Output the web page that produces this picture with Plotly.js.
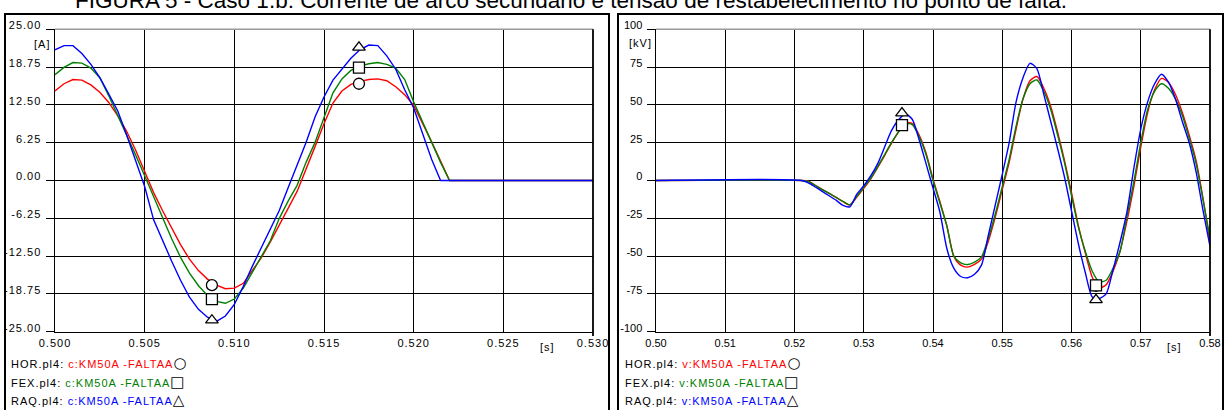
<!DOCTYPE html>
<html><head><meta charset="utf-8">
<script src="https://cdn.plot.ly/plotly-3.0.1.min.js"></script>
<style>
html,body{margin:0;padding:0;background:#fff;}
#chart{width:1226px;height:410px;}
.xtick text,.ytick text,.annotation-text{letter-spacing:1px;}
</style></head><body><div id="chart"></div>
<script>
// ---------- DATA: left chart (current, A) ----------
const tLeft = [0.5000,0.5005,0.5010,0.5015,0.5020,0.5025,0.5030,0.5035,0.5040,0.5045,
  0.5050,0.5055,0.5060,0.5065,0.5070,0.5075,0.5080,0.5085,0.5090,0.5095,
  0.5100,0.5105,0.5110,0.5115,0.5120,0.5125,0.5130,0.5135,0.5140,0.5145,
  0.5150,0.5155,0.5160,0.5165,0.5170,0.5175,0.5180,0.5185,0.5190,0.5195,
  0.5200,0.5205,0.5210,0.5215,0.5220,0.5300];
const iHOR = [14.8,16.0,16.7,16.6,15.8,14.6,12.9,10.7,8.1,5.0,
  1.5,-2.0,-5.0,-7.8,-10.6,-13.0,-14.9,-16.3,-17.3,-17.9,
  -17.8,-17.0,-14.8,-12.8,-10.2,-7.3,-4.6,-1.8,1.8,5.6,
  9.4,12.8,14.8,15.9,16.4,16.7,16.8,16.5,15.5,14.2,
  12.4,9.5,6.4,3.2,0,0];
const iFEX = [17.5,18.7,19.5,19.4,18.6,17.0,14.0,10.8,7.4,4.2,
  0.8,-2.7,-6.4,-9.6,-12.7,-15.3,-17.4,-19.0,-20.0,-20.3,
  -19.6,-17.8,-15.2,-12.6,-10.0,-6.3,-3.4,-0.8,3.0,6.3,
  10.5,14.5,16.8,18.2,18.9,19.3,19.5,19.2,18.6,16.7,
  13.0,9.6,6.3,3.0,0,0];
const iRAQ = [21.6,22.3,22.3,21.0,19.2,17.0,14.3,11.5,7.5,3.3,
  -1.0,-6.5,-10.0,-13.3,-16.5,-19.3,-21.3,-22.6,-23.3,-22.4,
  -20.5,-17.5,-14.2,-11.2,-8.0,-5.0,-1.2,2.6,6.3,10.5,
  13.8,16.6,18.4,20.2,21.6,22.4,22.3,20.6,18.4,15.0,
  12.0,7.6,3.5,0,0,0];
const mkLeftT = [0.50875,0.51695];
const mkLeftHOR = [-17.3,16.0];
const mkLeftFEX = [-19.6,18.65];
const mkLeftRAQ = [-23.1,22.0];

// ---------- DATA: right chart (voltage, kV) ----------
const tRight = [0.500,0.521,0.522,0.523,0.524,0.525,0.526,0.527,0.528,0.529,
  0.530,0.531,0.532,0.533,0.534,0.535,0.536,0.537,0.538,0.539,
  0.540,0.541,0.542,0.543,0.544,0.545,0.546,0.547,0.548,0.549,
  0.550,0.551,0.552,0.553,0.554,0.555,0.556,0.557,0.558,0.559,
  0.560,0.561,0.562,0.563,0.564,0.565,0.566,0.567,0.568,0.569,
  0.570,0.571,0.572,0.573,0.574,0.575,0.576,0.577,0.578,0.579,0.580];
const vHOR = [0,0,-0.5,-3.2,-5.9,-8.5,-11.2,-14.0,-16.3,-11.0,
  -5.2,1.0,8.5,16.5,24.5,32,37.8,37.8,30,18,
  1,-14,-30,-50,-56,-57.3,-55.5,-52,-40,-24,
  -6,12,34,54,66,68.8,61,49,32,13,
  -8,-30,-48,-64,-71,-69,-60,-47,-27,-4,
  22,45,60,67.5,65,57,45,30,13,-12,-41];
const vFEX = [0,0,-0.6,-3.3,-6.0,-8.5,-11.2,-13.8,-16.0,-10.5,
  -4.5,1.5,9,17,25,32,37.5,37,29,17,
  0,-15,-30,-50,-54.5,-55.6,-54,-50.5,-38,-22,
  -4,14,36,54,64,66.5,59,47,30,11.5,
  -10,-31,-47,-60,-67,-66,-58,-47,-24,-1,
  25,47,59,64,61,54,43,28,11,-13,-38];
const vRAQ = [0,0,-1.5,-4.3,-7.2,-10.1,-13.0,-16.5,-17.4,-9.0,
  -3.5,3.0,11.0,22.0,33.0,40.0,44.0,40.5,27.0,11.0,
  -5.0,-21.0,-45.0,-58.0,-63.5,-64.3,-62.0,-56.0,-36.0,-16.0,
  4.0,25.0,52.0,68.0,77.5,74.0,57.0,39.0,21.0,2.0,
  -20.0,-42.0,-61.0,-77.0,-78.0,-75.0,-59.0,-41.0,-21.0,8.0,
  34.0,52.0,64.0,70.3,65.0,54.0,39.0,25.0,5.5,-20.0,-43.5];
const mkRightT = [0.53552,0.56354];
const mkRightHOR = [36.8,-69.6];
const mkRightFEX = [36.6,-69.4];
const mkRightRAQ = [44.6,-78.9];

// ---------- ticks & labels ----------
const xTickLeft = [0.500,0.505,0.510,0.515,0.520,0.525,0.530];
const xTickLeftText = ['0.500','0.505','0.510','0.515','0.520','0.525','0.530'];
const yTickLeft = [-25,-18.75,-12.5,-6.25,0,6.25,12.5,18.75,25];
const yTickLeftText = ['-25.00','-18.75','-12.50','-6.25','0.00','6.25','12.50','18.75','25.00'];
const xTickRight = [0.50,0.51,0.52,0.53,0.54,0.55,0.56,0.57,0.58];
const xTickRightText = ['0.50','0.51','0.52','0.53','0.54','0.55','0.56','0.57','0.58'];
const yTickRight = [-100,-75,-50,-25,0,25,50,75,100];
const yTickRightText = ['-100','-75','-50','-25','0','25','50','75','100'];
const seriesNames = ['HOR.pl4','FEX.pl4','RAQ.pl4'];
const seriesColors = ['#ff0000','#008000','#0000ff'];
const leftVar = 'c:KM50A -FALTAA';
const rightVar = 'v:KM50A -FALTAA';
const legendSyms = ['\u25CB','\u25A1','\u25B3'];
const titleText = 'FIGURA 5 - Caso 1.b: Corrente de arco secundário e tensão de restabelecimento no ponto de falta.';

// ---------- geometry helpers ----------
const W = 1226, H = 410;
const px = x => x / W;
const py = y => 1 - y / H;
const FONT = 'Liberation Sans, Arial, sans-serif';

const lineW = 1.4;
const traces = [];
const leftSeries = [iHOR, iFEX, iRAQ];
const rightSeries = [vHOR, vFEX, vRAQ];
for (let k = 0; k < 3; k++) {
  traces.push({x: tLeft, y: leftSeries[k], xaxis:'x', yaxis:'y', mode:'lines',
    line:{color:seriesColors[k], width:lineW}, name: seriesNames[k], hoverinfo:'skip'});
}
for (let k = 0; k < 3; k++) {
  traces.push({x: tRight, y: rightSeries[k], xaxis:'x2', yaxis:'y2', mode:'lines',
    line:{color:seriesColors[k], width:lineW, shape:'spline', smoothing:0.7}, name: seriesNames[k], hoverinfo:'skip'});
}
const symbols = ['circle','square','triangle-up'];
const mkL = [mkLeftHOR, mkLeftFEX, mkLeftRAQ];
const mkR = [mkRightHOR, mkRightFEX, mkRightRAQ];
for (let k = 0; k < 3; k++) {
  const mk = {symbol: symbols[k], size: 11, color:'#ffffff', line:{color:'#000', width:1.3}};
  traces.push({x: mkLeftT, y: mkL[k], xaxis:'x', yaxis:'y', mode:'markers', marker: mk, hoverinfo:'skip'});
  traces.push({x: mkRightT, y: mkR[k], xaxis:'x2', yaxis:'y2', mode:'markers', marker: mk, hoverinfo:'skip'});
}

const tickFont = {family: FONT, size: 11, color:'#000'};
const yDom = [py(331.7), py(29.3)];
function xAxis(dom, range, vals, text, anchor) {
  return {domain: dom, range: range, tickvals: vals, ticktext: text, tickmode:'array',
    showgrid:true, gridcolor:'#000', gridwidth:1, zeroline:false,
    showline:true, linecolor:'#000', linewidth:1.5, ticks:'', ticklabelstandoff:1,
    tickfont: tickFont, anchor: anchor, fixedrange:true, automargin:false};
}
function yAxis(range, vals, text, anchor) {
  return {domain: yDom, range: range, tickvals: vals, ticktext: text, tickmode:'array',
    showgrid:true, gridcolor:'#000', gridwidth:1, zeroline:false,
    showline:true, linecolor:'#000', linewidth:1.5, ticks:'outside', ticklen:8,
    tickcolor:'#000', tickwidth:1, ticklabelshift:-4, ticklabelstandoff:2,
    tickfont: tickFont, anchor: anchor, fixedrange:true, automargin:false};
}

const shapes = [];
// panel frames
shapes.push({type:'rect', xref:'paper', yref:'paper', x0:px(5), x1:px(609), y0:py(430), y1:py(14),
  line:{color:'#000', width:2}});
shapes.push({type:'rect', xref:'paper', yref:'paper', x0:px(618), x1:px(1223), y0:py(430), y1:py(14),
  line:{color:'#000', width:2}});
// plot top (grey) and right (black) borders
[[55,593],[656,1210]].forEach(([a,b]) => {
  shapes.push({type:'line', xref:'paper', yref:'paper', x0:px(a), x1:px(b), y0:py(29.3), y1:py(29.3),
    line:{color:'#9a9a9a', width:1.5}, layer:'above'});
  shapes.push({type:'line', xref:'paper', yref:'paper', x0:px(b), x1:px(b), y0:py(29.3), y1:py(336),
    line:{color:'#000', width:1.8}, layer:'above'});
});

const annotations = [];
const legRows = [363, 382, 400];
for (let k = 0; k < 3; k++) {
  annotations.push({xref:'paper', yref:'paper', x:px(9), y:py(legRows[k]), xanchor:'left', yanchor:'middle',
    showarrow:false, font:{family:FONT, size:11, color:'#000'},
    text: seriesNames[k] + ': <span style="color:' + seriesColors[k] + '">' + leftVar + '</span>' +
      '<span style="font-family:DejaVu Sans;font-size:15px">' + legendSyms[k] + '</span>'});
  annotations.push({xref:'paper', yref:'paper', x:px(623), y:py(legRows[k]), xanchor:'left', yanchor:'middle',
    showarrow:false, font:{family:FONT, size:11, color:'#000'},
    text: seriesNames[k] + ': <span style="color:' + seriesColors[k] + '">' + rightVar + '</span>' +
      '<span style="font-family:DejaVu Sans;font-size:15px">' + legendSyms[k] + '</span>'});
}
const unitFont = {family: FONT, size: 11, color:'#000'};
annotations.push({xref:'paper', yref:'paper', x:px(42), y:py(44), xanchor:'center', yanchor:'middle', showarrow:false, text:'[A]', font:unitFont});
annotations.push({xref:'paper', yref:'paper', x:px(640), y:py(43), xanchor:'center', yanchor:'middle', showarrow:false, text:'[kV]', font:unitFont});
annotations.push({xref:'paper', yref:'paper', x:px(547), y:py(347), xanchor:'center', yanchor:'middle', showarrow:false, text:'[s]', font:unitFont});
annotations.push({xref:'paper', yref:'paper', x:px(1174), y:py(347), xanchor:'center', yanchor:'middle', showarrow:false, text:'[s]', font:unitFont});

const layout = {
  width: W, height: H,
  margin: {l:0, r:0, t:0, b:0, pad:0},
  paper_bgcolor:'#fff', plot_bgcolor:'#fff',
  showlegend: false,
  title: {text: titleText, font:{family: FONT, size:22.5, color:'#000'},
    xref:'container', yref:'container', x: 571/W, xanchor:'center', y: 1, yanchor:'middle'},
  xaxis: xAxis([px(55), px(593)], [0.5, 0.53], xTickLeft, xTickLeftText, 'y'),
  yaxis: yAxis([-25, 25], yTickLeft, yTickLeftText, 'x'),
  xaxis2: xAxis([px(656), px(1210)], [0.5, 0.58], xTickRight, xTickRightText, 'y2'),
  yaxis2: yAxis([-100, 100], yTickRight, yTickRightText, 'x2'),
  shapes: shapes,
  annotations: annotations
};

Plotly.newPlot('chart', traces, layout, {staticPlot:true, displayModeBar:false});
</script></body></html>
